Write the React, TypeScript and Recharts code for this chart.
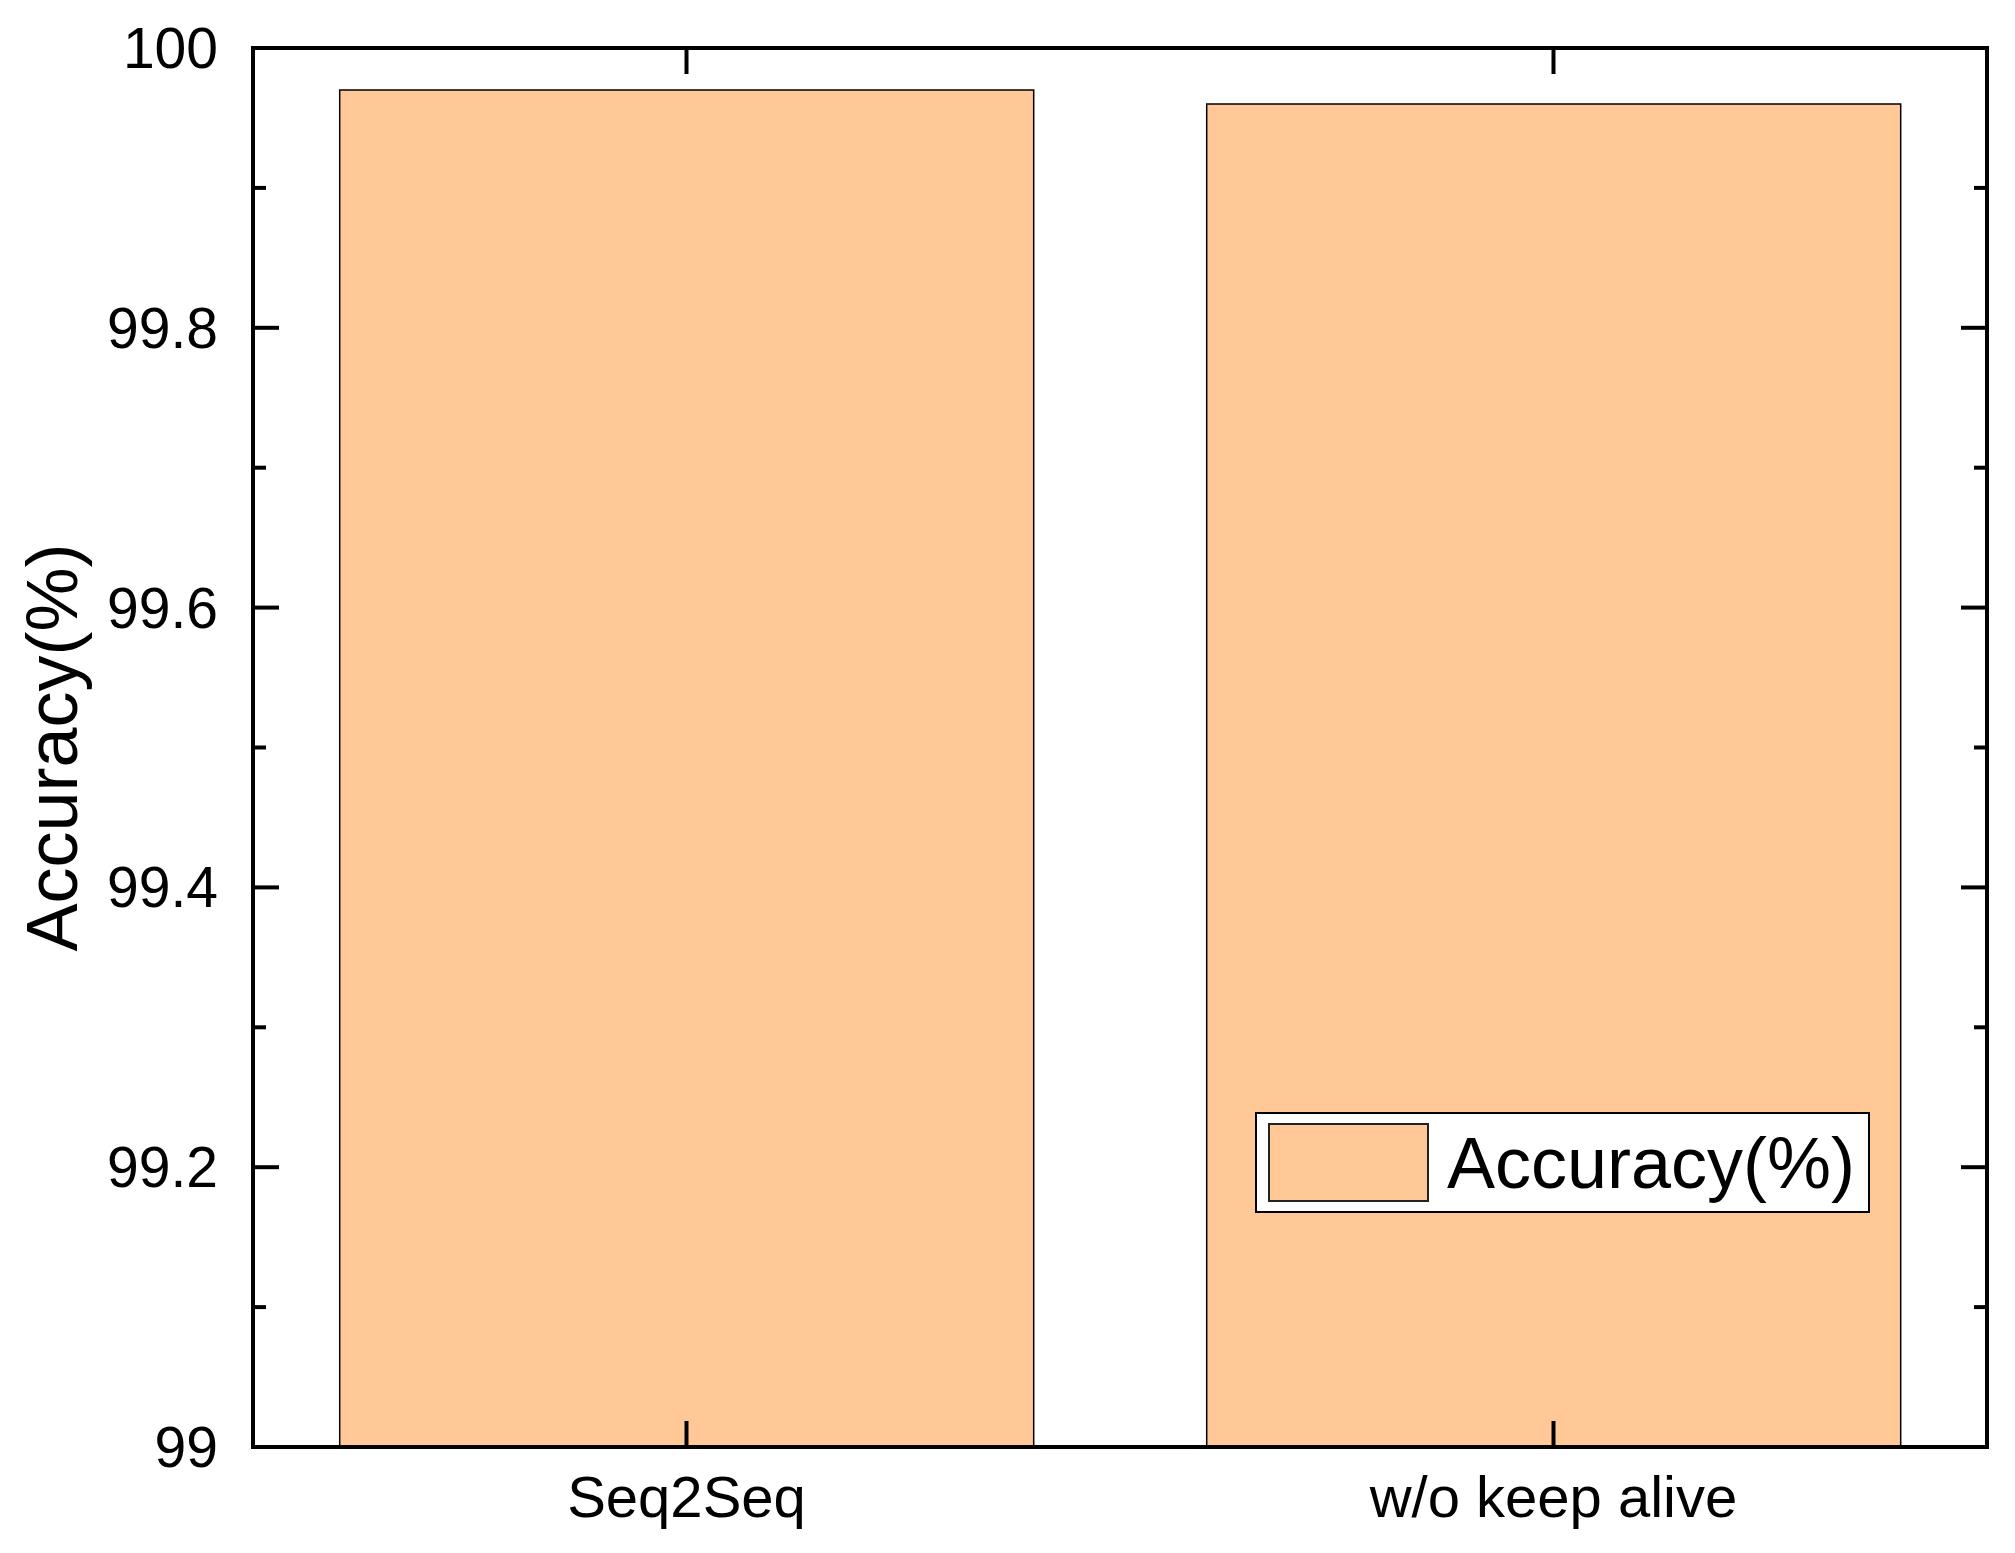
import React from 'react';
import { ComposedChart, Bar, Line, XAxis, YAxis, Legend } from 'recharts';

const categories = ['Seq2Seq', 'w/o keep alive'];
const accuracy = [99.97, 99.96];
const majorTicks = [99, 99.2, 99.4, 99.6, 99.8, 100];
const minorTicks = [99.1, 99.3, 99.5, 99.7, 99.9];
const tickLabels = ['99', '99.2', '99.4', '99.6', '99.8', '100'];

const FONT = '"Liberation Sans", Arial, sans-serif';
const BAR_FILL = '#FFC896';

const chartData = categories.map((name, i) => ({ name, acc: accuracy[i] }));
const allTicks = [...majorTicks, ...minorTicks].sort((a, b) => a - b);

const majorIndex = (v: number) => majorTicks.findIndex(t => Math.abs(t - v) < 1e-6);

// left axis: tick lines pointing into the plot, labels on the outside
const LeftTick = (props: any) => {
  const { x, y, payload } = props;
  const idx = majorIndex(payload.value);
  const len = idx >= 0 ? 26 : 13;
  return (
    <g>
      <line x1={x} y1={y} x2={x + len} y2={y} stroke="#000" strokeWidth={4} />
      {idx >= 0 && (
        <text x={x - 35} y={y} dy={20} textAnchor="end" fontSize={57} fontFamily={FONT} fill="#000">
          {tickLabels[idx]}
        </text>
      )}
    </g>
  );
};

const RightTick = (props: any) => {
  const { x, y, payload } = props;
  const len = majorIndex(payload.value) >= 0 ? 26 : 13;
  return <line x1={x} y1={y} x2={x - len} y2={y} stroke="#000" strokeWidth={4} />;
};

const BottomTick = (props: any) => {
  const { x, y, payload } = props;
  return (
    <g>
      <line x1={x} y1={y} x2={x} y2={y - 26} stroke="#000" strokeWidth={4} />
      <text x={x} y={y + 70} textAnchor="middle" fontSize={58} fontFamily={FONT} fill="#000">
        {payload.value}
      </text>
    </g>
  );
};

const TopTick = (props: any) => {
  const { x, y } = props;
  return <line x1={x} y1={y} x2={x} y2={y + 26} stroke="#000" strokeWidth={4} />;
};

const YLabel = (props: any) => {
  const vb = props.viewBox || {};
  const cy = (vb.y || 0) + (vb.height || 0) / 2;
  return (
    <text transform={`translate(77, ${cy}) rotate(-90)`} textAnchor="middle" fontSize={72} fontFamily={FONT} fill="#000">
      Accuracy(%)
    </text>
  );
};

const LegendBox = () => (
  <div
    style={{
      boxSizing: 'border-box',
      width: 615,
      height: 101,
      border: '2px solid #000',
      background: '#fff',
      display: 'flex',
      alignItems: 'center',
      paddingLeft: 11,
      fontFamily: FONT,
    }}
  >
    <div style={{ boxSizing: 'border-box', width: 161, height: 79, background: BAR_FILL, border: '2px solid #222' }} />
    <span style={{ fontSize: 72, marginLeft: 18, color: '#000', lineHeight: 1 }}>Accuracy(%)</span>
  </div>
);

const axisLine = { stroke: '#000', strokeWidth: 4, strokeLinecap: 'square' as const };

export default function App() {
  return (
    <div style={{ position: 'absolute', left: 0, top: 0, background: '#fff' }}>
      <ComposedChart
        width={2015}
        height={1553}
        data={chartData}
        margin={{ top: 47, right: 27, left: 0, bottom: 0 }}
        barCategoryGap="10%"
      >
        <XAxis
          dataKey="name"
          height={106}
          axisLine={axisLine}
          tickLine={false}
          tickSize={0}
          tickMargin={0}
          interval={0}
          tick={<BottomTick />}
        />
        <XAxis
          xAxisId="top"
          orientation="top"
          dataKey="name"
          height={1}
          axisLine={axisLine}
          tickLine={false}
          tickSize={0}
          tickMargin={0}
          interval={0}
          tick={<TopTick />}
        />
        <YAxis
          type="number"
          domain={[99, 100]}
          allowDataOverflow
          ticks={allTicks}
          interval={0}
          width={253}
          axisLine={axisLine}
          tickLine={false}
          tickSize={0}
          tickMargin={0}
          tick={<LeftTick />}
          label={<YLabel />}
        />
        <YAxis
          yAxisId="right"
          orientation="right"
          type="number"
          domain={[99, 100]}
          allowDataOverflow
          ticks={allTicks}
          interval={0}
          width={1}
          axisLine={axisLine}
          tickLine={false}
          tickSize={0}
          tickMargin={0}
          tick={<RightTick />}
        />
        <Legend
          layout="vertical"
          align="center"
          verticalAlign="middle"
          wrapperStyle={{ left: 1255, top: 1112, width: 615, height: 101 }}
          content={<LegendBox />}
        />
        <Bar dataKey="acc" name="Accuracy(%)" fill={BAR_FILL} stroke="#000" strokeWidth={1.5} isAnimationActive={false} />
        {/* invisible series so the mirrored top/right axes get drawn */}
        <Line
          xAxisId="top"
          yAxisId="right"
          dataKey="acc"
          stroke="none"
          dot={false}
          activeDot={false}
          legendType="none"
          isAnimationActive={false}
        />
      </ComposedChart>
    </div>
  );
}
